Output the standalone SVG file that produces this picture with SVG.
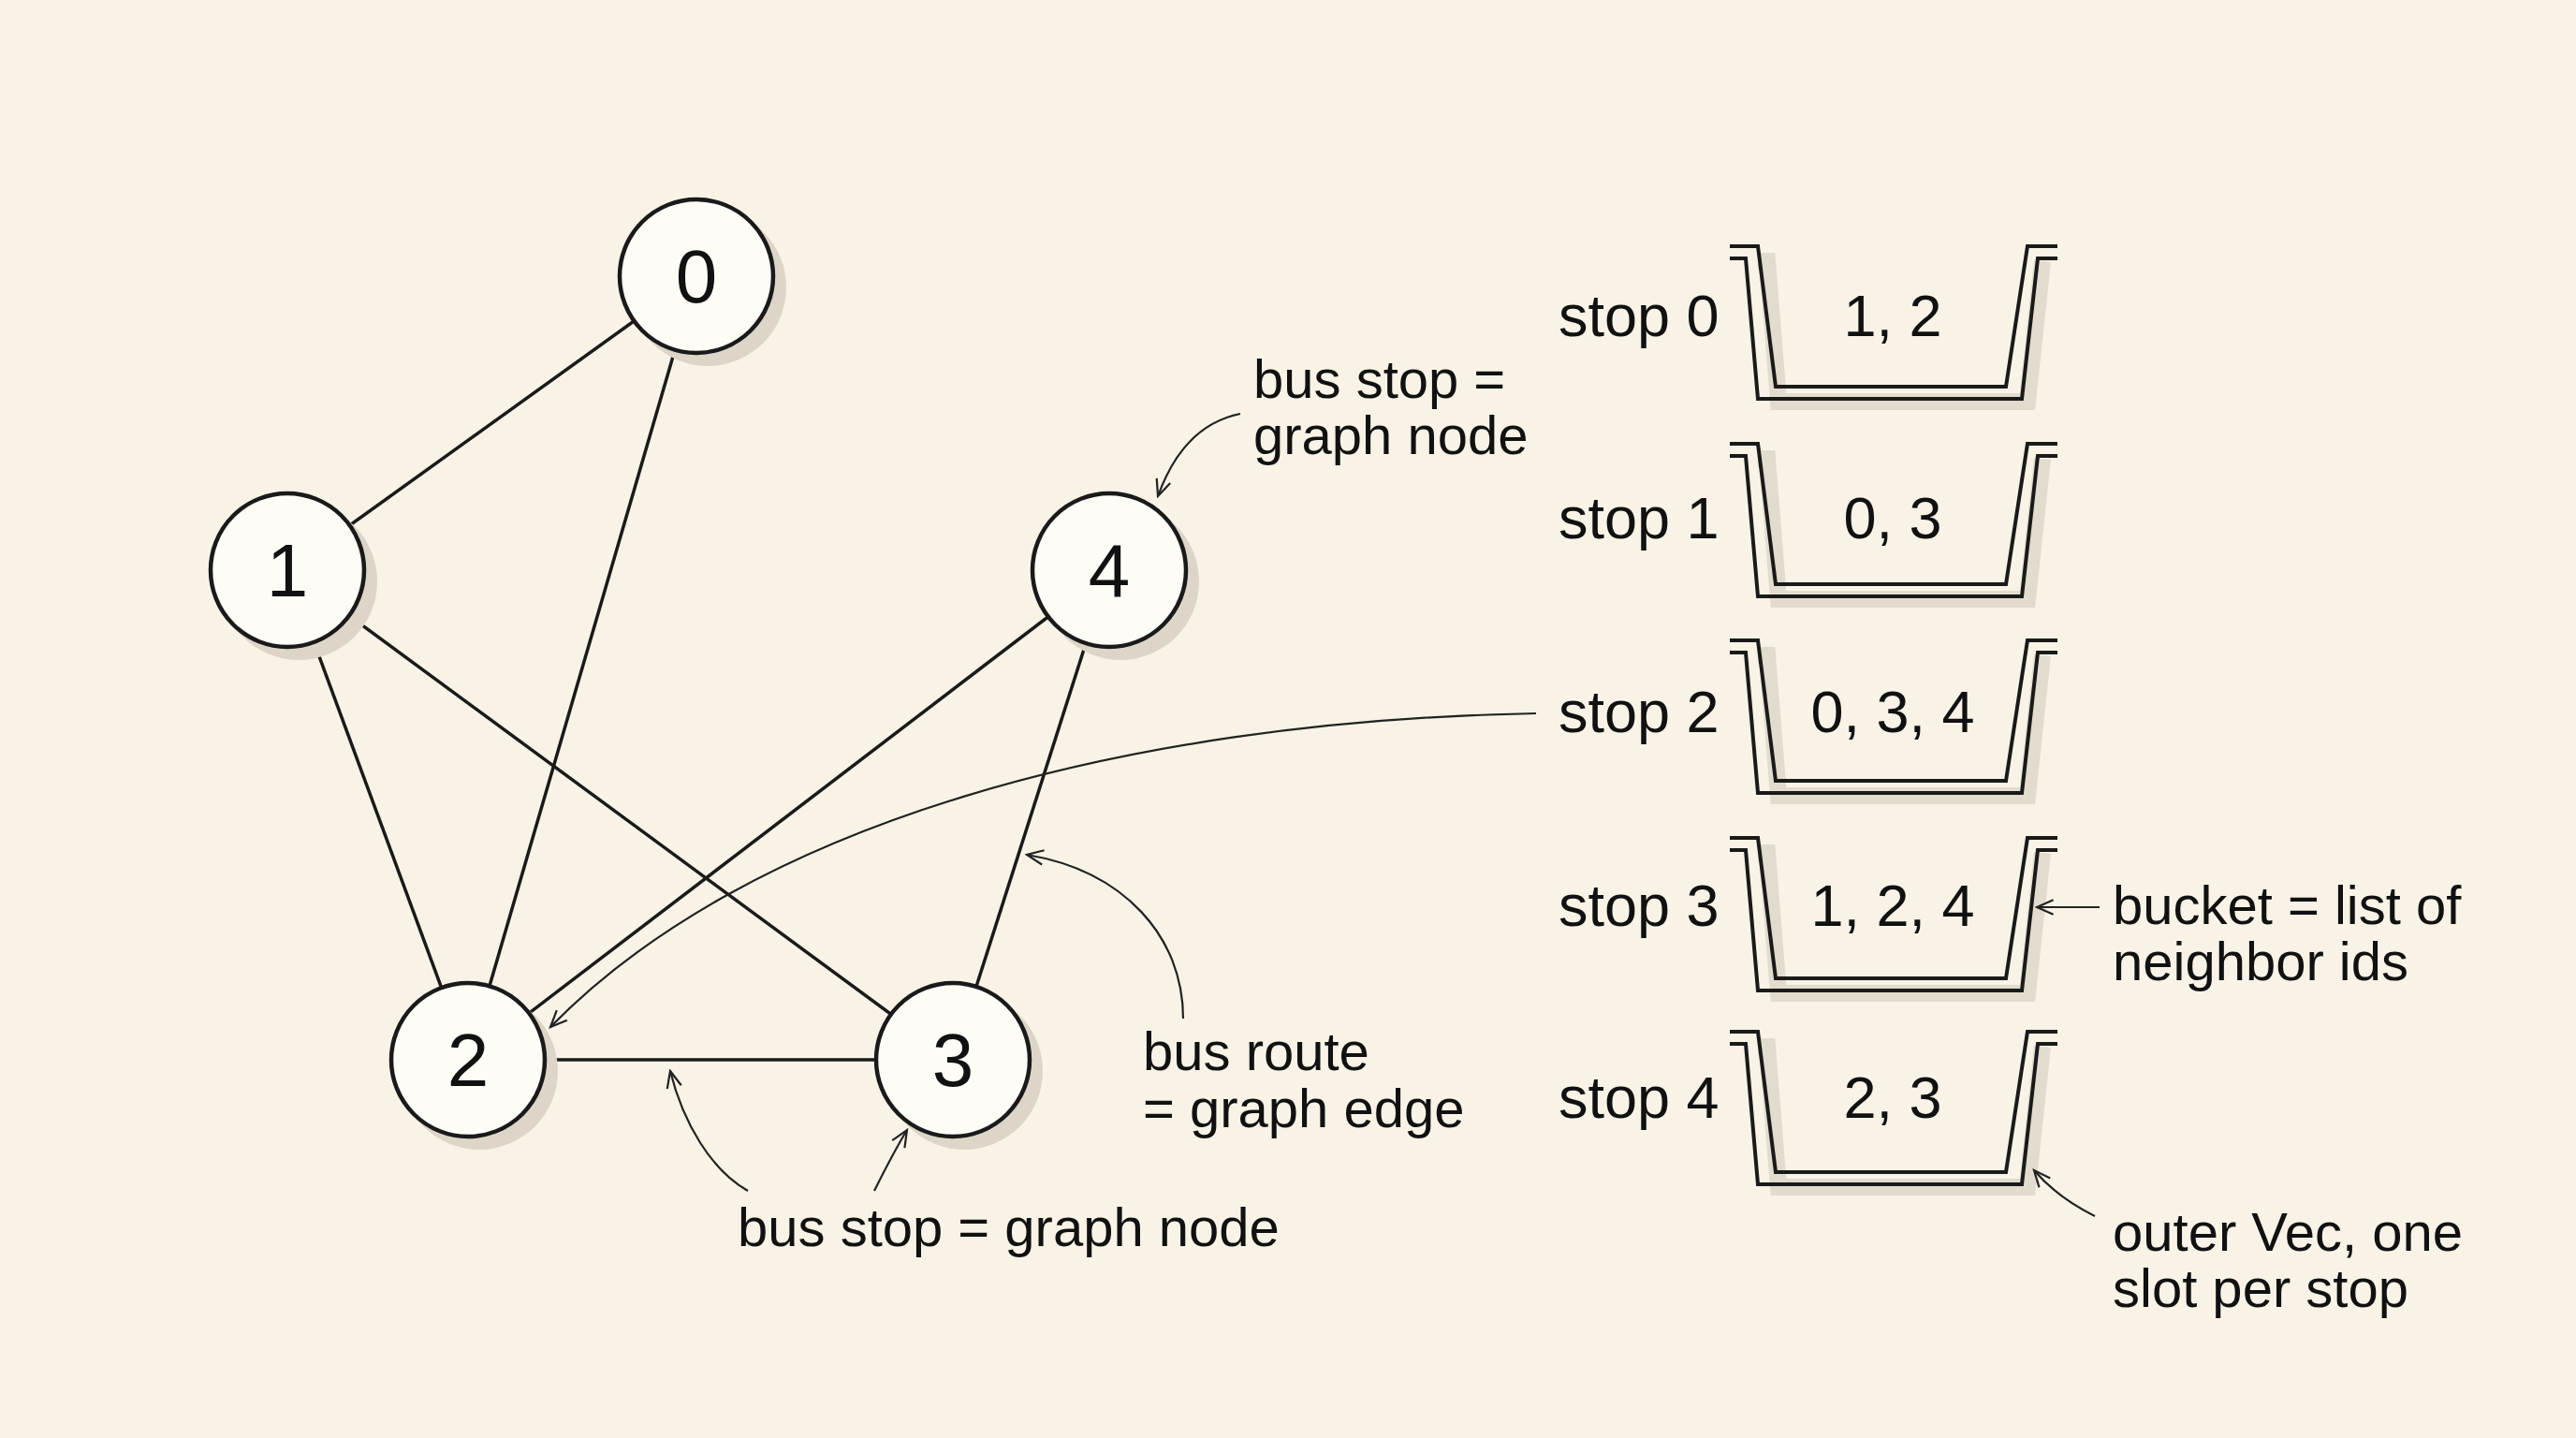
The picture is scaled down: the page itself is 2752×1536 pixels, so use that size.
<svg xmlns="http://www.w3.org/2000/svg" width="2752" height="1536" viewBox="0 0 2752 1536">
<defs>
<marker id="ah" viewBox="0 0 20 20" refX="18" refY="10" markerWidth="22" markerHeight="22" markerUnits="userSpaceOnUse" orient="auto"><path d="M2,3 L18,10 L2,17" fill="none" stroke="#222" stroke-width="2"/></marker>
<g id="bucket">
<path d="M30,16 L40,16 L52,166 L318,166 L334,16" fill="none" stroke="#d8d1c3" stroke-width="18" opacity="0.7"/>
<path d="M0,0 L30,0 L49,150 L295,150 L318,0 L350,0" fill="none" stroke="#1a1a1a" stroke-width="4"/>
<path d="M0,13 L17,13 L30,163 L312,163 L329,13 L350,13" fill="none" stroke="#1a1a1a" stroke-width="4"/>
</g>
</defs>
<style>
.t{font-family:"Liberation Sans",Arial,sans-serif;fill:#111}
.n{font-size:80px;text-anchor:middle;dominant-baseline:central}
.s{font-size:63px;dominant-baseline:central}
.a{font-size:58px}
.e{stroke:#1a1a1a;stroke-width:3.5;fill:none}
.c{stroke:#222;stroke-width:2.2;fill:none}
circle.nd{fill:#fefcf6;stroke:#1a1a1a;stroke-width:4.5}
circle.sh{fill:#ddd6c8}
</style>
<rect width="2752" height="1536" fill="#f8f3e6"/>
<g id="edges">
<line class="e" x1="744" y1="295" x2="307" y2="609"/>
<line class="e" x1="744" y1="295" x2="500" y2="1132"/>
<line class="e" x1="307" y1="609" x2="500" y2="1132"/>
<line class="e" x1="307" y1="609" x2="1018" y2="1132"/>
<line class="e" x1="500" y1="1132" x2="1185" y2="609"/>
<line class="e" x1="1018" y1="1132" x2="1185" y2="609"/>
<line class="e" x1="500" y1="1132" x2="1018" y2="1132"/>
</g>
<g id="node0"><circle class="sh" cx="756" cy="307" r="84"/><circle class="nd" cx="744" cy="295" r="82"/><text class="t n" x="744" y="295">0</text></g>
<g id="node1"><circle class="sh" cx="319" cy="621" r="84"/><circle class="nd" cx="307" cy="609" r="82"/><text class="t n" x="307" y="609">1</text></g>
<g id="node4"><circle class="sh" cx="1197" cy="621" r="84"/><circle class="nd" cx="1185" cy="609" r="82"/><text class="t n" x="1185" y="609">4</text></g>
<g id="node2"><circle class="sh" cx="512" cy="1144" r="84"/><circle class="nd" cx="500" cy="1132" r="82"/><text class="t n" x="500" y="1132">2</text></g>
<g id="node3"><circle class="sh" cx="1030" cy="1144" r="84"/><circle class="nd" cx="1018" cy="1132" r="82"/><text class="t n" x="1018" y="1132">3</text></g>
<g id="buckets">
<use href="#bucket" x="1848" y="263"/><text class="t s" x="1665" y="337">stop 0</text><text class="t s" x="2022" y="337" text-anchor="middle">1, 2</text>
<use href="#bucket" x="1848" y="474"/><text class="t s" x="1665" y="553">stop 1</text><text class="t s" x="2022" y="553" text-anchor="middle">0, 3</text>
<use href="#bucket" x="1848" y="684"/><text class="t s" x="1665" y="760">stop 2</text><text class="t s" x="2022" y="760" text-anchor="middle">0, 3, 4</text>
<use href="#bucket" x="1848" y="895"/><text class="t s" x="1665" y="967">stop 3</text><text class="t s" x="2022" y="967" text-anchor="middle">1, 2, 4</text>
<use href="#bucket" x="1848" y="1102"/><text class="t s" x="1665" y="1172">stop 4</text><text class="t s" x="2022" y="1172" text-anchor="middle">2, 3</text>
</g>
<g id="annotations">
<text class="t a" x="1339" y="425">bus stop =</text><text class="t a" x="1339" y="485">graph node</text>
<text class="t a" x="1221" y="1143">bus route</text><text class="t a" x="1221" y="1204">= graph edge</text>
<text class="t a" x="788" y="1331">bus stop = graph node</text>
<text class="t a" x="2257" y="987">bucket = list of</text><text class="t a" x="2257" y="1047">neighbor ids</text>
<text class="t a" x="2257" y="1336">outer Vec, one</text><text class="t a" x="2257" y="1396">slot per stop</text>
</g>
<g id="connectors">
<path class="c" d="M1325,442 C1285,450 1255,480 1237,530" marker-end="url(#ah)"/>
<path class="c" d="M1641,762 C1200,770 800,880 588,1097" marker-end="url(#ah)"/>
<path class="c" d="M1264,1088 C1264,1000 1200,930 1097,913" marker-end="url(#ah)"/>
<path class="c" d="M799,1272 C760,1250 730,1200 716,1144" marker-end="url(#ah)"/>
<path class="c" d="M934,1272 C945,1250 955,1230 969,1207" marker-end="url(#ah)"/>
<path class="c" d="M2243,969 L2176,969" marker-end="url(#ah)"/>
<path class="c" d="M2238,1299 C2210,1285 2190,1270 2173,1250" marker-end="url(#ah)"/>
</g>
</svg>
